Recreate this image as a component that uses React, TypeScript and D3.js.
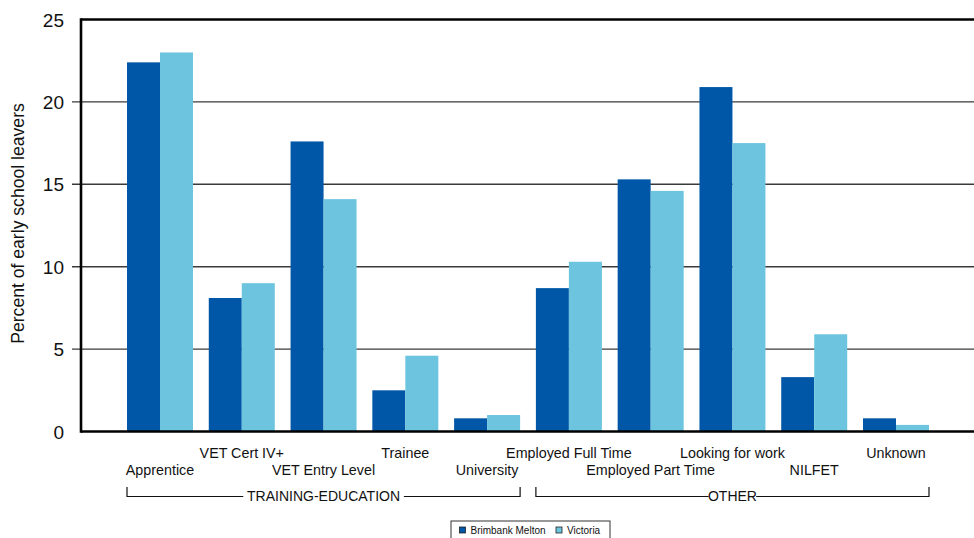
import React from "react";
import * as d3 from "d3";

const categories = [
  "Apprentice",
  "VET Cert IV+",
  "VET Entry Level",
  "Trainee",
  "University",
  "Employed Full Time",
  "Employed Part Time",
  "Looking for work",
  "NILFET",
  "Unknown",
];
const brimbankMelton = [22.4, 8.1, 17.6, 2.5, 0.8, 8.7, 15.3, 20.9, 3.3, 0.8];
const victoria = [23.0, 9.0, 14.1, 4.6, 1.0, 10.3, 14.6, 17.5, 5.9, 0.4];
const seriesNames = ["Brimbank Melton", "Victoria"];
const yTicks = [0, 5, 10, 15, 20, 25];
const groups = [
  { label: "TRAINING-EDUCATION", from: "Apprentice", to: "University" },
  { label: "OTHER", from: "Employed Full Time", to: "Unknown" },
];

const W = 974;
const H = 538;
const left = 81;
const right = 975;
const top = 19.5;
const bottom = 431.5;
const colors = ["#0057A7", "#6CC4DF"];
const font = "'Liberation Sans', Arial, Helvetica, sans-serif";

export default function App() {
  const x = d3
    .scaleBand<string>()
    .domain(categories)
    .range([left, right])
    .paddingInner(0.193)
    .paddingOuter(0.5625);
  const xs = d3
    .scaleBand<string>()
    .domain(seriesNames)
    .range([0, x.bandwidth()]);
  const y = d3.scaleLinear().domain([0, 25]).range([bottom, top]);
  const series = [brimbankMelton, victoria];

  return (
    <svg
      width={W}
      height={H}
      style={{ position: "absolute", left: 0, top: 0, background: "#fff" }}
      fontFamily={font}
    >
      {/* gridlines */}
      {yTicks
        .filter((t) => t !== 0 && t !== 25)
        .map((t) => (
          <line
            key={"g" + t}
            x1={72}
            x2={W}
            y1={y(t)}
            y2={y(t)}
            stroke="#3a3a3a"
            strokeWidth={1.4}
          />
        ))}
      {/* bars */}
      {categories.map((c, i) =>
        seriesNames.map((s, j) => (
          <rect
            key={c + s}
            x={(x(c) as number) + (xs(s) as number)}
            y={y(series[j][i])}
            width={xs.bandwidth()}
            height={y(0) - y(series[j][i])}
            fill={colors[j]}
          />
        ))
      )}
      {/* frame */}
      <line x1={left} x2={W} y1={y(25)} y2={y(25)} stroke="#000" strokeWidth={2.6} />
      <line x1={left} x2={W} y1={y(0)} y2={y(0)} stroke="#000" strokeWidth={2.6} />
      <line x1={left} x2={left} y1={y(25) - 1.3} y2={y(0) + 1.3} stroke="#000" strokeWidth={2.6} />
      {/* y tick labels */}
      {yTicks.map((t) => (
        <text
          key={"t" + t}
          x={64}
          y={y(t) + 7}
          textAnchor="end"
          fontSize={19}
          fill="#111"
        >
          {t}
        </text>
      ))}
      <text
        transform={`translate(23.5,223.5) rotate(-90)`}
        textAnchor="middle"
        fontSize={17.6}
        fill="#111"
      >
        Percent of early school leavers
      </text>
      {/* category labels */}
      {categories.map((c, i) => (
        <text
          key={"l" + c}
          x={(x(c) as number) + x.bandwidth() / 2}
          y={i % 2 === 1 ? 458 : 475}
          textAnchor="middle"
          fontSize={14.3}
          fill="#111"
        >
          {c}
        </text>
      ))}
      {/* group brackets */}
      {groups.map((g) => {
        const x1 = x(g.from) as number;
        const x2 = (x(g.to) as number) + x.bandwidth();
        const cx = (x1 + x2) / 2;
        const ly = 496.5;
        const half = g.label.length * 4.35 + 2;
        return (
          <g key={g.label}>
            <path
              d={`M${x1},487 V${ly} H${cx - half} M${cx + half},${ly} H${x2} V487`}
              fill="none"
              stroke="#111"
              strokeWidth={1.2}
            />
            <text x={cx} y={501} textAnchor="middle" fontSize={14} fill="#111">
              {g.label}
            </text>
          </g>
        );
      })}
      {/* legend */}
      <rect x={451} y={521} width={159} height={30} fill="#fff" stroke="#333" strokeWidth={1} />
      {seriesNames.map((s, j) => {
        const lx = j === 0 ? 459.5 : 556;
        return (
          <g key={"lg" + s}>
            <rect x={lx} y={527} width={6} height={6} fill={colors[j]} stroke="#222" strokeWidth={0.8} />
            <text x={lx + 11} y={533.5} fontSize={10} fill="#111">
              {s}
            </text>
          </g>
        );
      })}
    </svg>
  );
}
